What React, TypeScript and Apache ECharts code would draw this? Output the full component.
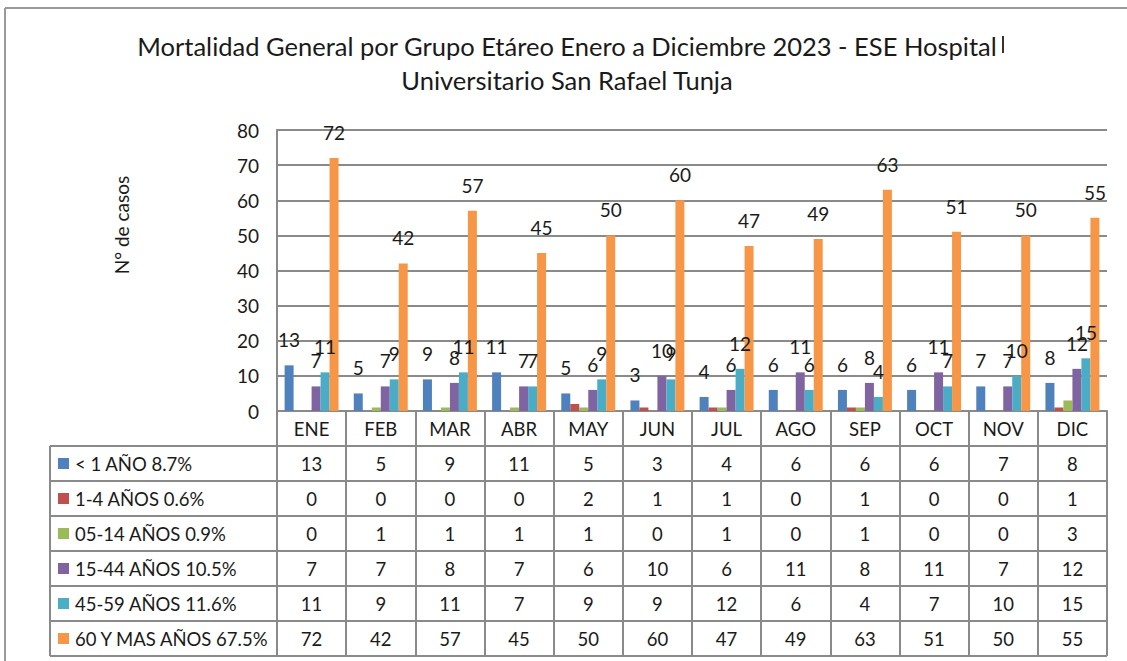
import React, { useEffect, useRef } from "react";
import * as echarts from "echarts";

const months = ["ENE", "FEB", "MAR", "ABR", "MAY", "JUN", "JUL", "AGO", "SEP", "OCT", "NOV", "DIC"];
const seriesNames = [
  "< 1 AÑO 8.7%",
  "1-4 AÑOS 0.6%",
  "05-14 AÑOS 0.9%",
  "15-44 AÑOS 10.5%",
  "45-59 AÑOS 11.6%",
  "60 Y MAS AÑOS 67.5%",
];
const menor1 = [13, 5, 9, 11, 5, 3, 4, 6, 6, 6, 7, 8];
const anios1a4 = [0, 0, 0, 0, 2, 1, 1, 0, 1, 0, 0, 1];
const anios5a14 = [0, 1, 1, 1, 1, 0, 1, 0, 1, 0, 0, 3];
const anios15a44 = [7, 7, 8, 7, 6, 10, 6, 11, 8, 11, 7, 12];
const anios45a59 = [11, 9, 11, 7, 9, 9, 12, 6, 4, 7, 10, 15];
const anios60mas = [72, 42, 57, 45, 50, 60, 47, 49, 63, 51, 50, 55];
const seriesData = [menor1, anios1a4, anios5a14, anios15a44, anios45a59, anios60mas];
const showLabels = [true, false, false, true, true, true];
const colors = ["#4F81BD", "#C0504D", "#9BBB59", "#8064A2", "#4BACC6", "#F79646"];
const titleLines = [
  "Mortalidad General por Grupo Etáreo Enero a Diciembre 2023 - ESE Hospital",
  "Universitario San Rafael Tunja",
];
const yAxisName = "N° de casos";

const W = 1127;
const H = 661;
const FONT = "Lato, 'Noto Sans', sans-serif";
const GRID_LEFT = 277;
const GRID_RIGHT_X = 1107;
const GRID_TOP = 130;
const AXIS_Y = 411;
const ROW_H = 35;
const TABLE_LEFT = 50;
const LINE = "#8a8a8a";

export default function App() {
  const ref = useRef<HTMLDivElement>(null);

  useEffect(() => {
    if (!ref.current) return;
    const chart = echarts.init(ref.current, undefined, { renderer: "svg", width: W, height: H });
    const bandW = (GRID_RIGHT_X - GRID_LEFT) / months.length;
    const tableTop = AXIS_Y + ROW_H;
    const graphics: any[] = [];

    // outer chart border
    graphics.push({ type: "line", shape: { x1: 5, y1: 8, x2: W, y2: 8 }, style: { stroke: "#9a9a9a", lineWidth: 2 } });
    graphics.push({ type: "line", shape: { x1: 5, y1: 8, x2: 5, y2: H }, style: { stroke: "#9a9a9a", lineWidth: 2 } });
    graphics.push({ type: "line", shape: { x1: 1003, y1: 36, x2: 1003, y2: 53 }, style: { stroke: "#333", lineWidth: 2 } });

    titleLines.forEach((t, i) => {
      graphics.push({
        type: "text",
        x: 567,
        y: 46 + i * 34,
        style: { text: t, font: `25.5px ${FONT}`, fill: "#1a1a1a", textAlign: "center", textVerticalAlign: "middle" },
      });
    });

    graphics.push({
      type: "text",
      x: 121,
      y: 225,
      rotation: Math.PI / 2,
      style: { text: yAxisName, font: `19px ${FONT}`, fill: "#1a1a1a", textAlign: "center", textVerticalAlign: "middle" },
    });

    // table horizontal lines
    for (let r = 0; r <= seriesNames.length; r++) {
      const y = tableTop + r * ROW_H;
      graphics.push({ type: "line", shape: { x1: TABLE_LEFT, y1: y, x2: GRID_RIGHT_X, y2: y }, style: { stroke: LINE, lineWidth: 2 } });
    }
    graphics.push({
      type: "line",
      shape: { x1: TABLE_LEFT, y1: tableTop, x2: TABLE_LEFT, y2: tableTop + seriesNames.length * ROW_H },
      style: { stroke: LINE, lineWidth: 2 },
    });

    seriesNames.forEach((name, r) => {
      const cy = tableTop + r * ROW_H + ROW_H / 2;
      graphics.push({ type: "rect", shape: { x: 58, y: cy - 5.5, width: 11, height: 11 }, style: { fill: colors[r] } });
      graphics.push({
        type: "text",
        x: 75,
        y: cy,
        style: { text: name, font: `18.5px ${FONT}`, fill: "#1a1a1a", textAlign: "left", textVerticalAlign: "middle" },
      });
      seriesData[r].forEach((v, c) => {
        graphics.push({
          type: "text",
          x: GRID_LEFT + (c + 0.5) * bandW,
          y: cy,
          style: { text: String(v), font: `18.5px ${FONT}`, fill: "#1a1a1a", textAlign: "center", textVerticalAlign: "middle" },
        });
      });
    });

    chart.setOption({
      animation: false,
      backgroundColor: "#ffffff",
      grid: { left: GRID_LEFT, right: W - GRID_RIGHT_X, top: GRID_TOP, bottom: H - AXIS_Y },
      xAxis: {
        type: "category",
        data: months,
        axisLine: { show: true, lineStyle: { color: LINE, width: 2 } },
        axisTick: { show: true, interval: 0, length: ROW_H * (seriesNames.length + 1), lineStyle: { color: LINE, width: 2 } },
        axisLabel: { interval: 0, margin: 8, fontSize: 18.5, fontFamily: FONT, color: "#1a1a1a" },
      },
      yAxis: {
        type: "value",
        min: 0,
        max: 80,
        interval: 10,
        axisLine: { show: true, lineStyle: { color: LINE, width: 2 } },
        axisTick: { show: false },
        splitLine: { show: true, lineStyle: { color: LINE, width: 2 } },
        axisLabel: { margin: 18, fontSize: 19, fontFamily: FONT, color: "#1a1a1a" },
      },
      series: seriesData.map((d, i) => ({
        type: "bar",
        name: seriesNames[i],
        data: d,
        itemStyle: { color: colors[i] },
        barGap: "0%",
        barCategoryGap: "22%",
        label: {
          show: showLabels[i],
          position: "top",
          distance: 16,
          fontSize: 19,
          fontFamily: FONT,
          color: "#1a1a1a",
        },
      })),
      graphic: graphics,
    });
    return () => chart.dispose();
  }, []);

  return <div ref={ref} style={{ position: "fixed", left: 0, top: 0, width: W, height: H, background: "#fff" }} />;
}
